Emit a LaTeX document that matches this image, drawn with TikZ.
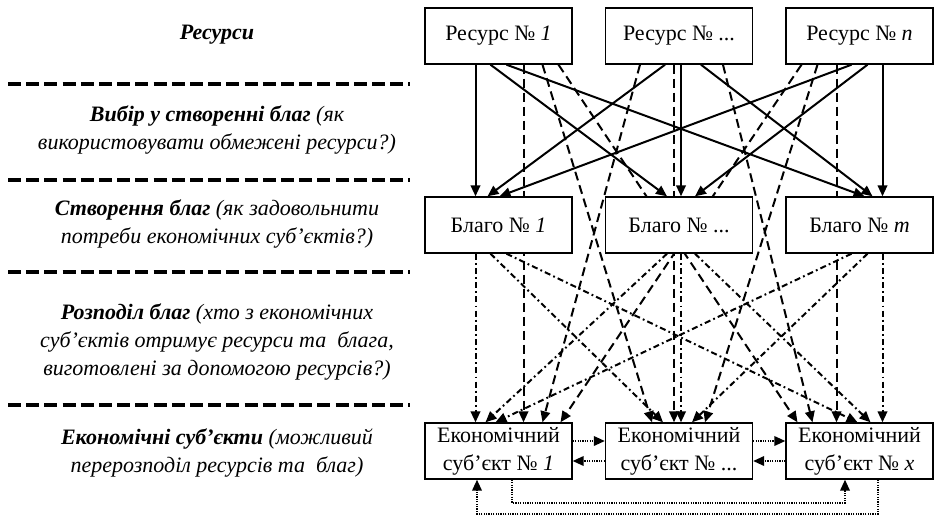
\documentclass[tikz,border=0pt]{standalone}
\usepackage{fontspec}
\setmainfont{Liberation Serif}
\usetikzlibrary{arrows.meta,calc,backgrounds}
\tikzset{
  bx/.style = {rectangle, draw=black, fill=white, line width=0.7pt, align=center,
    inner sep=0pt, minimum width=73.5pt, minimum height=28pt,
    font=\fontsize{11}{14}\selectfont},% white box
  lb/.style = {align=center, inner sep=0pt,
    font=\fontsize{11}{14}\selectfont\itshape},% left column text
  sp/.style = {line width=1.6pt, dash pattern=on 6.5pt off 2.6pt},% separator
  mk/.style = {->, line width=1pt},% resource to good
  gv/.style = {->, line width=1pt, dash pattern=on 4.5pt off 2.5pt},% resource to subject
  dt/.style = {->, line width=1pt, dash pattern=on 3pt off 1.6pt on 0.9pt off 1.6pt},% good to subject
  sw/.style = {->, line width=0.9pt, dash pattern=on 0.6pt off 0.6pt}% subject to subject
}

\begin{document}
\begin{tikzpicture}[x=0.5pt,y=-0.5pt,>={Triangle[length=5.5pt,width=4.8pt]}]
\useasboundingbox (0,0) rectangle (949,515);
% left column
\node [lb] (lres) at (217,35) {\textbf{Ресурси}};
\node [lb] (lchoice) at (217,130) {\textbf{Вибір у створенні благ} (як\\використовувати обмежені ресурси?)};
\node [lb] (lmake) at (217,224) {\textbf{Створення благ} (як задовольнити\\потреби економічних суб’єктів?)};
\node [lb] (ldist) at (217,341.5) {\textbf{Розподіл благ} (хто з економічних\\суб’єктів отримує ресурси та~ блага,\\виготовлені за допомогою ресурсів?)};
\node [lb] (lsubj) at (217,452.5) {\textbf{Економічні суб’єкти} (можливий\\перерозподіл ресурсів та~ благ)};
\foreach \y in {84,180,272,405}
  \draw [sp] (8,\y) -- (410,\y);

% resources, goods, subjects
\node [bx] (r1) at (498.5,36) {Ресурс № \textit{1}};
\node [bx] (r2) at (679,36) {Ресурс № ...};
\node [bx] (r3) at (859.5,36) {Ресурс № \textit{n}};
\node [bx] (b1) at (498.5,225) {Благо № \textit{1}};
\node [bx] (b2) at (679,225) {Благо № ...};
\node [bx] (b3) at (859.5,225) {Благо № \textit{m}};
\node [bx] (e1) at (498.5,451) {Економічний\\суб’єкт № \textit{1}};
\node [bx] (e2) at (679,451) {Економічний\\суб’єкт № ...};
\node [bx] (e3) at (859.5,451) {Економічний\\суб’єкт № \textit{x}};

\begin{pgfonlayer}{background}
\foreach \src/\sx/\dst/\dx in {r1/-23/b1/-23, r1/-8/b2/-12, r1/8/b3/5,
    r2/-14/b1/-11, r2/2/b2/2, r2/22/b3/13,
    r3/-8/b1/1, r3/8/b2/16, r3/23/b3/23}
  \draw [mk] ($(\src.south)+(\sx,0)$) -- ($(\dst.north)+(\dx,0)$);
\foreach \src/\sx/\dst/\dx in {r1/25/e1/25, r1/44/e2/-27, r1/60/e3/-62,
    r2/-39/e1/44, r2/-5/e2/-5, r2/44/e3/-47,
    r3/-58/e1/62, r3/-42/e2/26, r3/-23/e3/-23}
  \draw [gv] ($(\src.south)+(\sx,0)$) -- ($(\dst.north)+(\dx,0)$);
\foreach \src/\sx/\dst/\dx in {b1/-23/e1/-23, b1/-8/e2/-16, b1/8/e3/-2,
    b2/-12/e1/-13, b2/2/e2/2, b2/16/e3/11,
    b3/-8/e1/-3, b3/8/e2/13, b3/23/e3/23}
  \draw [dt] ($(\src.south)+(\sx,0)$) -- ($(\dst.north)+(\dx,0)$);
\end{pgfonlayer}

% exchange between subjects
\draw [sw] ($(e1.east)+(0,-10)$) -- ($(e2.west)+(0,-10)$);
\draw [sw] ($(e2.west)+(0,10)$) -- ($(e1.east)+(0,10)$);
\draw [sw] ($(e2.east)+(0,-10)$) -- ($(e3.west)+(0,-10)$);
\draw [sw] ($(e3.west)+(0,10)$) -- ($(e2.east)+(0,10)$);
\draw [sw] ($(e1.south)+(13.5,0)$) -- ++(0,23) -| ($(e3.south)+(-14.5,0)$);
\draw [sw] ($(e3.south)+(18.5,0)$) -- ++(0,34) -| ($(e1.south)+(-21.5,0)$);
\end{tikzpicture}
\end{document}
